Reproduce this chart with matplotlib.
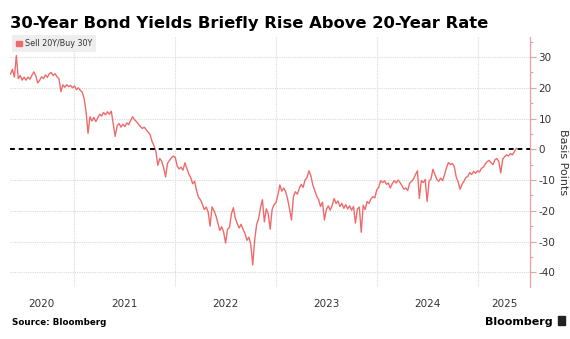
import numpy as np
import pandas as pd
import matplotlib
matplotlib.use("Agg")
import matplotlib.pyplot as plt
from matplotlib.patches import Patch, Rectangle

plt.rcParams["font.family"] = ["DejaVu Sans"]
plt.rcParams["axes.unicode_minus"] = False

# weekly spread, sell 20Y / buy 30Y, basis points
start_date = "2020-05-18"
spread = [
    24.5, 26, 23.5, 30.5, 23, 24, 22.5, 23.5, 22.5, 23.5,
    22.8, 24, 25.2, 24, 21.6, 22.4, 23.6, 23, 24.2, 23.4,
    24.6, 25, 24, 24.6, 23.6, 23, 18.8, 21, 20.2, 21,
    20.4, 20.8, 20, 20.6, 19.4, 20, 19.2, 18.6, 16.5, 12.2,
    5.2, 10.6, 9.2, 10.4, 9, 10.2, 11.4, 10.8, 12, 11.2,
    12.2, 11.4, 12.4, 8.2, 4.2, 7.6, 8.4, 7.2, 8.2, 7.4,
    8.6, 8, 9.4, 10.6, 9.6, 9, 8.2, 7.4, 6.8, 7.2,
    6.4, 5.6, 4.8, 2.6, 1.2, -0.6, -5.2, -3, -3.8, -6,
    -9, -4.6, -3.6, -2.8, -2.2, -2.6, -5.4, -6.4, -5.8, -6.8,
    -4.4, -6.2, -8, -9.2, -11.2, -10.4, -13.4, -15.6, -16.4, -17.8,
    -19.6, -18.8, -20.4, -25, -18.7, -20, -21.6, -24, -26.4, -25.2,
    -27, -30.5, -26, -25.4, -21, -19, -22.4, -24.2, -25.6, -24.4,
    -26, -27.4, -29.6, -28.6, -31, -37.6, -29.5, -24.5, -22.6, -19,
    -16.4, -23.6, -19.4, -21, -26, -19.6, -18, -17.4, -14.8, -11.6,
    -13.6, -12.6, -13.8, -16.2, -19.4, -23, -15.4, -13.8, -14.6, -12.8,
    -11.4, -12.4, -10, -9.2, -7, -8.6, -11.6, -13.4, -15.2, -16.4,
    -18.6, -17.2, -23, -19.6, -18.4, -19.8, -18.2, -16, -17.6, -16.8,
    -18.6, -17.6, -19.2, -18, -19.4, -18.4, -19.8, -18.6, -24, -19.4,
    -18.8, -27, -18.2, -19.6, -17, -17.6, -16.2, -15.4, -15.8, -13.2,
    -12.4, -10.2, -10.8, -10.2, -11.4, -11, -12.6, -11.2, -10.2, -11,
    -10, -10.8, -11.8, -13, -12.6, -13.4, -11, -10.4, -9.6, -8.2,
    -7, -16, -10.2, -10.8, -9.8, -17, -10.4, -9.6, -6.5, -8.2,
    -9.8, -10.4, -9.4, -10.2, -8.2, -6, -4.3, -5, -4.6, -5.6,
    -9, -10.6, -13, -11.4, -10.4, -9.2, -8.8, -7.6, -8.2, -7.2,
    -7.8, -7, -7.4, -6.2, -5.8, -4.8, -4, -3.6, -4.4, -5,
    -3.4, -3, -4, -7.7, -3.2, -2.4, -1.8, -2.2, -1.4, -1.8,
    -0.8, 0.3,
]
dates = pd.date_range(start_date, periods=len(spread), freq="7D")

y_ticks = [30, 20, 10, 0, -10, -20, -30, -40]
years = [2020, 2021, 2022, 2023, 2024, 2025]

fig = plt.figure(figsize=(5.70, 3.39), dpi=100)
ax = fig.add_axes([0.0175, 0.1534, 0.9125, 0.738])

ax.plot(dates, spread, color="#ef6b6b", lw=1.0, zorder=3)
ax.axhline(0, color="black", lw=1.4, ls=(0, (2.5, 2)), zorder=4)

x0 = pd.Timestamp("2020-05-16")
x1 = pd.Timestamp("2025-07-08")
ax.set_xlim(x0, x1)
ax.set_ylim(-44.8, 36.6)

# year boundaries as gridlines, labels centred on the visible part of each year
bounds = [pd.Timestamp(f"{y}-01-01") for y in years[1:]]
ax.set_xticks(bounds)
ax.set_xticklabels([""] * len(bounds))
edges = [x0] + bounds + [x1]
mids = [edges[i] + (edges[i + 1] - edges[i]) / 2 for i in range(len(years))]
ax.set_xticks(mids, minor=True)
ax.set_xticklabels([str(y) for y in years], minor=True)
ax.tick_params(axis="x", which="both", length=0, pad=9, labelsize=7.5,
               labelcolor="#333333")
ax.grid(axis="x", which="major", color="#d9d9d9", ls=(0, (1, 1)), lw=0.8)

# right-hand axis
ax.yaxis.tick_right()
ax.yaxis.set_label_position("right")
ax.set_yticks(y_ticks)
ax.set_yticks(np.arange(-40, 36, 5), minor=True)
ax.tick_params(axis="y", which="major", length=4, width=0.8, color="#eaa0a0",
               labelsize=7.5, labelcolor="#333333", pad=2)
ax.tick_params(axis="y", which="minor", length=2.5, width=0.8, color="#eaa0a0")
ax.set_ylabel("Basis Points", rotation=270, labelpad=9, fontsize=8,
              color="#333333")
for t in y_ticks:
    if t != 0:
        ax.axhline(t, color="#d9d9d9", ls=(0, (1, 1)), lw=0.8, zorder=1)

for side in ["left", "top", "bottom"]:
    ax.spines[side].set_visible(False)
ax.spines["right"].set_color("#eaa0a0")
ax.spines["right"].set_linewidth(0.9)

leg = ax.legend(handles=[Patch(color="#ef6b6b", label="Sell 20Y/Buy 30Y")],
                loc="upper left", bbox_to_anchor=(-0.003, 1.022), fontsize=5.8,
                handlelength=0.7, handleheight=0.7, handletextpad=0.3,
                borderpad=0.5, frameon=True, fancybox=False)
leg.get_frame().set_facecolor("#eeeeee")
leg.get_frame().set_edgecolor("none")
leg.get_frame().set_alpha(1)
for txt in leg.get_texts():
    txt.set_color("#333333")

fig.text(0.0175, 1 - 28 / 339, "30-Year Bond Yields Briefly Rise Above 20-Year Rate",
         fontsize=11.8, fontweight="bold", ha="left", va="baseline")
fig.text(0.021, 1 - 325 / 339, "Source: Bloomberg", fontsize=6.3,
         fontweight="bold", ha="left", va="baseline")
fig.text(0.970, 1 - 325 / 339, "Bloomberg", fontsize=8, fontweight="bold",
         ha="right", va="baseline")
fig.patches.append(Rectangle((0.979, 1 - 325 / 339), 0.012, 0.026,
                             transform=fig.transFigure, color="#222222"))

fig.savefig("out.png", dpi=100)
